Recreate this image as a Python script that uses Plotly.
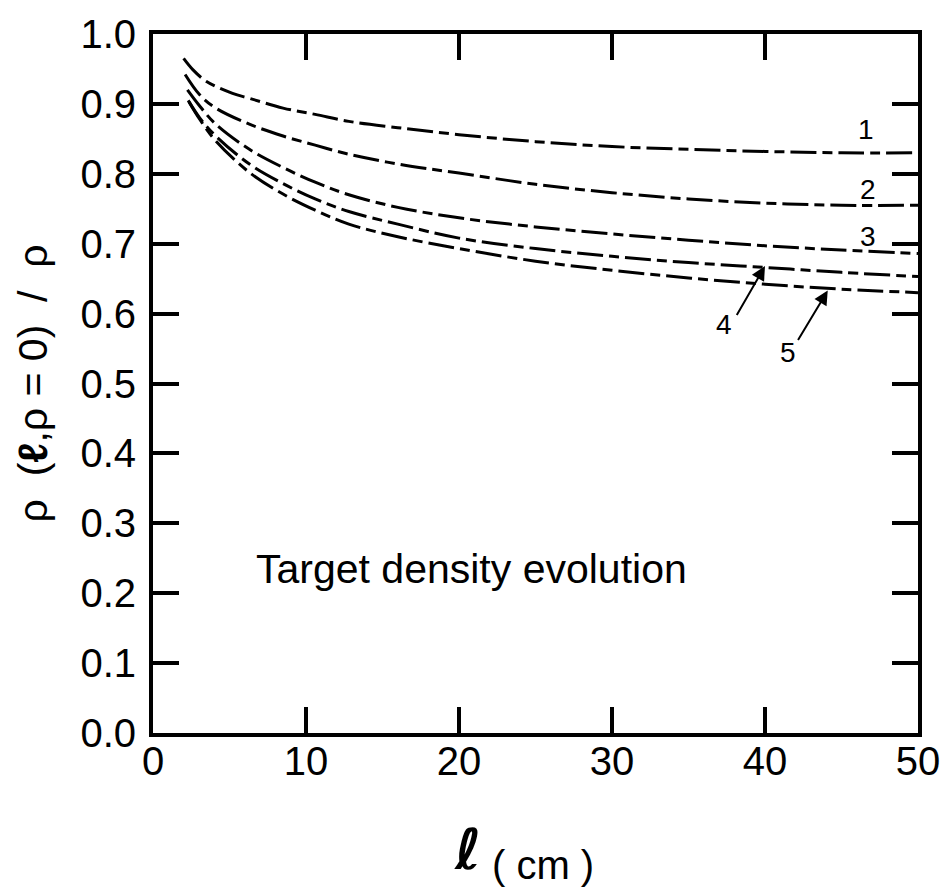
import plotly.graph_objects as go

# ---- data ----
x1 = [2.0, 2.6, 3.5, 5.2, 6.3, 8.5, 10.6, 12.8, 16, 20, 25, 30, 35, 40, 45, 50]
y1 = [0.965, 0.949, 0.932, 0.915, 0.908, 0.894, 0.885, 0.875, 0.866, 0.856, 0.846, 0.839, 0.835, 0.832, 0.830, 0.830]

x2 = [2.1, 3.05, 4.1, 6.3, 8.5, 10.6, 12.6, 16, 20, 25, 30, 35, 40, 45, 50]
y2 = [0.942, 0.913, 0.894, 0.871, 0.854, 0.841, 0.829, 0.814, 0.801, 0.785, 0.773, 0.764, 0.758, 0.755, 0.755]

x3 = [2.25, 3.05, 4.1, 6.3, 8.5, 10.6, 12.8, 16, 20, 25, 30, 35, 40, 45, 50]
y3 = [0.920, 0.897, 0.871, 0.835, 0.809, 0.788, 0.770, 0.752, 0.737, 0.724, 0.714, 0.705, 0.697, 0.691, 0.686]

x4 = [2.3, 3.05, 4.1, 6.3, 8.5, 10.6, 12.8, 16, 20, 25, 30, 35, 40, 45, 50]
y4 = [0.905, 0.880, 0.854, 0.814, 0.786, 0.764, 0.746, 0.728, 0.708, 0.693, 0.682, 0.673, 0.666, 0.659, 0.653]

x5 = [2.35, 3.05, 4.1, 6.3, 8.5, 10.6, 12.8, 16, 20, 25, 30, 35, 40, 45, 50]
y5 = [0.903, 0.878, 0.847, 0.802, 0.771, 0.748, 0.728, 0.710, 0.693, 0.675, 0.662, 0.651, 0.642, 0.635, 0.630]

curve_names = ["1", "2", "3", "4", "5"]
x_ticks = [0, 10, 20, 30, 40, 50]
y_ticks = [0.0, 0.1, 0.2, 0.3, 0.4, 0.5, 0.6, 0.7, 0.8, 0.9, 1.0]
y_ticklabels = ["0.0", "0.1", "0.2", "0.3", "0.4", "0.5", "0.6", "0.7", "0.8", "0.9", "1.0"]

# label positions (data coords)
label_pos = {"1": (46.6, 0.864), "2": (46.7, 0.778), "3": (46.7, 0.710),
             "4": (37.3, 0.584), "5": (41.5, 0.544)}
arrows = [((38.1, 0.596), (40.0, 0.668)), ((42.1, 0.560), (44.1, 0.633))]

FONT = "Liberation Sans, Arial, Helvetica, sans-serif"
DASH = "26px,6px,10px,6px"

fig = go.Figure()
for xs, ys, nm in zip([x1, x2, x3, x4, x5], [y1, y2, y3, y4, y5], curve_names):
    fig.add_trace(go.Scatter(x=xs, y=ys, mode="lines", name=nm,
                             line=dict(color="black", width=3, dash=DASH, shape="spline"),
                             showlegend=False))

annotations = []
for k, (lx, ly) in label_pos.items():
    annotations.append(dict(x=lx, y=ly, xref="x", yref="y", text=k, showarrow=False,
                            xanchor="center", yanchor="middle",
                            font=dict(family=FONT, size=28, color="black")))
for (tx, ty), (hx, hy) in arrows:
    annotations.append(dict(x=hx, y=hy, ax=tx, ay=ty, xref="x", yref="y", axref="x", ayref="y",
                            text="", showarrow=True, arrowhead=2, arrowsize=1.4, arrowwidth=2,
                            arrowcolor="black", standoff=0, startstandoff=0))

annotations.append(dict(x=6.6, y=0.234, xref="x", yref="y", xanchor="left", yanchor="middle",
                        text="Target density evolution", showarrow=False,
                        font=dict(family=FONT, size=41, color="black")))

# y-axis title
annotations.append(dict(x=-0.157, y=0.50, xref="paper", yref="paper", textangle=-90,
                        xanchor="center", yanchor="middle",
                        text="ρ  (<b>ℓ</b>,ρ = 0)  /  ρ", showarrow=False,
                        font=dict(family=FONT, size=41, color="black")))
# x-axis title
annotations.append(dict(x=0.411, y=-0.167, xref="paper", yref="paper",
                        xanchor="center", yanchor="middle",
                        text="<b>ℓ</b>", showarrow=False,
                        font=dict(family="DejaVu Sans", size=56, color="black")))
annotations.append(dict(x=0.51, y=-0.189, xref="paper", yref="paper",
                        xanchor="center", yanchor="middle",
                        text="( cm )", showarrow=False,
                        font=dict(family=FONT, size=40, color="black")))

axis_common = dict(showline=True, linecolor="black", linewidth=4, mirror="ticks",
                   ticks="inside", ticklen=26, tickwidth=4, tickcolor="black",
                   showgrid=False, zeroline=False,
                   tickfont=dict(family=FONT, size=40, color="black"))

fig.update_xaxes(range=[0, 50], tickmode="array", tickvals=x_ticks,
                 ticktext=[str(v) for v in x_ticks], ticklabelstandoff=-10, **axis_common)
fig.update_yaxes(range=[0, 1.0], tickmode="array", tickvals=y_ticks,
                 ticktext=y_ticklabels, ticklabelstandoff=5, **axis_common)

fig.update_layout(width=952, height=890, margin=dict(l=153, r=28, t=29, b=157),
                  plot_bgcolor="white", paper_bgcolor="white",
                  annotations=annotations)

fig.write_html("out.html")
